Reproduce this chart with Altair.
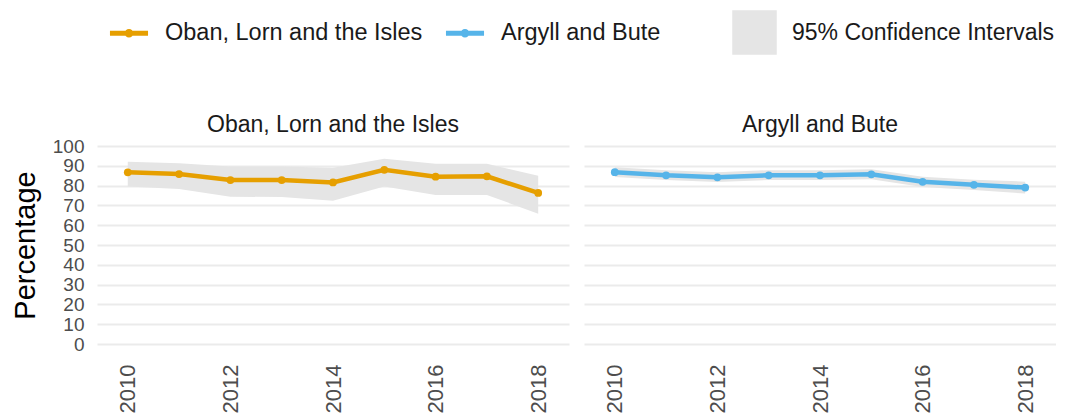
import altair as alt
import pandas as pd

years = [2010, 2011, 2012, 2013, 2014, 2015, 2016, 2017, 2018]
regions = ["Oban, Lorn and the Isles", "Argyll and Bute"]
oban = [86.7, 85.8, 82.8, 82.8, 81.6, 88.0, 84.5, 84.7, 76.3]
oban_lo = [79.5, 78.3, 74.4, 74.2, 72.4, 79.5, 75.3, 75.3, 65.8]
oban_hi = [92.0, 91.3, 89.6, 89.6, 89.0, 93.6, 91.0, 91.0, 85.0]
argyll = [86.8, 85.2, 84.2, 85.2, 85.2, 85.7, 81.9, 80.4, 79.0]
argyll_lo = [84.3, 82.8, 81.8, 82.8, 82.8, 83.2, 79.3, 77.8, 76.0]
argyll_hi = [89.3, 87.8, 86.8, 87.8, 87.8, 88.3, 84.5, 83.0, 82.0]
ci_label = "95% Confidence Intervals"

rows = []
for reg, vals, lo, hi in [(regions[0], oban, oban_lo, oban_hi),
                          (regions[1], argyll, argyll_lo, argyll_hi)]:
    for y, v, l, h in zip(years, vals, lo, hi):
        rows.append({"Region": reg, "Year": y, "Value": v, "Lower": l,
                     "Upper": h, "CI": ci_label})
df = pd.DataFrame(rows)

FONT = "Liberation Sans"
colors = ["#E69F00", "#56B4E9"]

x = alt.X("Year:Q", scale=alt.Scale(domain=[2009.4, 2018.6], nice=False, zero=False),
          axis=alt.Axis(values=[2010, 2012, 2014, 2016, 2018], format="d", title=None,
                        labelAngle=270, labelFontSize=22, labelColor="#4D4D4D",
                        grid=False, domain=False, ticks=False, labelPadding=20,
                        labelAlign="right", labelBaseline="middle", labelOverlap=False))
yscale = alt.Scale(domain=[0, 100], nice=False)
yaxis = alt.Axis(values=list(range(0, 101, 10)), title="Percentage", titleFontSize=29,
                 titleFontWeight="normal", titleColor="#000000", labelFontSize=19,
                 labelColor="#4D4D4D", domain=False, ticks=False, gridColor="#EBEBEB",
                 gridWidth=2, labelPadding=13, titlePadding=12, labelOverlap=False)

line_path = ("M-1.4,-0.18 L1.4,-0.18 L1.4,0.18 L-1.4,0.18 Z "
             "M-0.32,0 A0.32,0.32 0 1,1 0.32,0 A0.32,0.32 0 1,1 -0.32,0 Z")

color = alt.Color("Region:N", scale=alt.Scale(domain=regions, range=colors), sort=regions,
                  legend=alt.Legend(title=None, orient="none", direction="horizontal",
                                    legendX=18, legendY=-127,
                                    symbolType=line_path, symbolSize=740,
                                    symbolStrokeWidth=0, labelFontSize=23.5, labelLimit=0,
                                    labelColor="#1a1a1a", columnPadding=22, labelOffset=22))

band = alt.Chart().mark_area(opacity=1).encode(
    x=x,
    y=alt.Y("Lower:Q", scale=yscale, axis=yaxis),
    y2="Upper:Q",
    fill=alt.Fill("CI:N", scale=alt.Scale(range=["#E5E5E5"]),
                  legend=alt.Legend(title=None, orient="none", legendX=635, legendY=-136,
                                    symbolType="square", labelLimit=0,
                                    symbolSize=1980, labelFontSize=23, labelOffset=15,
                                    labelColor="#1a1a1a", symbolStrokeWidth=0)),
)
line = alt.Chart().mark_line(strokeWidth=4.5).encode(
    x=x, y=alt.Y("Value:Q", scale=yscale, axis=yaxis), color=color)
pts = alt.Chart().mark_point(filled=True, size=60, opacity=1).encode(
    x=x, y=alt.Y("Value:Q", scale=yscale, axis=yaxis), color=color)

chart = alt.layer(band, line, pts, data=df).properties(width=472, height=198).facet(
    column=alt.Column("Region:N", sort=regions,
                      header=alt.Header(title=None, labelFontSize=23, labelColor="#1a1a1a",
                                        labelFont=FONT, labelPadding=9)),
    spacing=15,
).properties(
    padding={"left": 3, "top": 2, "right": 0, "bottom": 0}
).configure(font=FONT).configure_view(stroke=None).configure_legend(
    labelFont=FONT, padding=0
)

chart.save("out.html", embed_options={"renderer": "svg", "actions": False})
